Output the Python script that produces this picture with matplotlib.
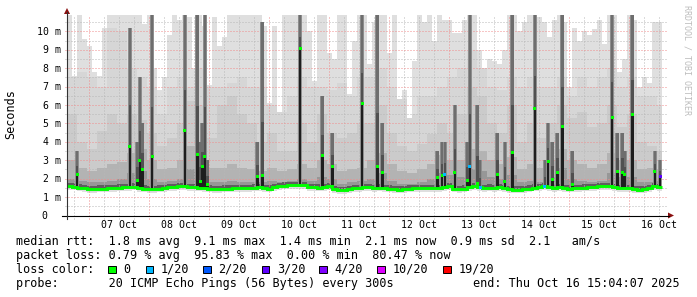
import numpy as np
import matplotlib
matplotlib.use("Agg")
import matplotlib.pyplot as plt
from matplotlib.lines import Line2D
from matplotlib.patches import Polygon, Rectangle

# ---------------- data (ms; x = hours since Oct 06 15:04:07, 2 h bins) ----------------
median_ms = [1.58, 1.56, 1.52, 1.48,
             1.42, 1.42, 1.45, 1.45, 1.48, 1.50,
             1.52, 1.55, 1.55, 1.56,
             1.50, 1.45, 1.42, 1.42,
             1.45, 1.50, 1.55, 1.55, 1.58,
             1.58, 1.55, 1.55, 1.52, 1.50,
             1.45, 1.42, 1.42, 1.45, 1.45, 1.48, 1.50, 1.50, 1.48,
             1.52, 1.55, 1.50, 1.45, 1.55, 1.60, 1.62, 1.65, 1.65,
             1.65, 1.65, 1.55, 1.55, 1.52, 1.55, 1.60,
             1.42, 1.38, 1.38, 1.42, 1.48, 1.50,
             1.55, 1.55, 1.50, 1.52, 1.50, 1.45, 1.42,
             1.40, 1.42, 1.45, 1.48, 1.48, 1.50, 1.50,
             1.50, 1.48, 1.55, 1.60, 1.45, 1.42, 1.45,
             1.55, 1.60, 1.55, 1.50, 1.52, 1.50, 1.55, 1.48,
             1.42, 1.40, 1.40, 1.42, 1.45, 1.52,
             1.55, 1.60, 1.55, 1.50, 1.55, 1.48,
             1.45, 1.48, 1.50, 1.52, 1.55, 1.55, 1.58, 1.60,
             1.58, 1.55, 1.50, 1.48, 1.50,
             1.42, 1.40, 1.42, 1.50, 1.58, 1.55]

light_top_ms = [10.9, 7.6, 10.9, 9.6, 9.2, 7.8, 7.6, 10.2, 10.9, 10.9,
                10.9, 10.9, 10.9, 10.9, 10.9, 10.4, 10.9, 8.0, 6.8, 7.5,
                9.8, 10.9, 10.6, 10.9, 10.8, 8.0, 10.9, 10.3, 7.1, 10.8,
                9.2, 9.7, 10.9, 10.9, 10.9, 10.9, 10.9, 10.9, 10.9, 10.3,
                6.1, 10.3, 5.6, 10.9, 10.9, 10.9, 10.9, 10.9, 10.0, 7.3,
                10.9, 10.9, 8.8, 8.5, 10.9, 10.9, 6.6, 9.5, 10.9, 10.9,
                8.2, 10.5, 10.9, 10.9, 8.8, 10.9, 6.3, 6.8, 5.3, 8.4,
                10.9, 10.5, 10.9, 9.5, 10.9, 10.6, 10.6, 9.9, 9.9, 10.6,
                10.9, 10.9, 9.0, 8.0, 8.5, 8.4, 8.2, 9.0, 10.9, 10.9,
                10.0, 10.5, 10.9, 10.9, 10.8, 10.5, 9.7, 10.6, 10.9, 10.5,
                7.0, 10.2, 9.5, 10.0, 9.8, 10.1, 10.6, 9.3, 10.9, 10.9,
                7.8, 8.5, 10.9, 10.6, 7.0, 7.5, 7.2, 10.5, 10.5]

# 4 h bins
second_top_ms = [7.5, 7.8, 7.5, 7.0, 10.2, 10.0, 8.0, 7.5, 7.0, 5.5,
                 7.0, 7.5, 7.0, 8.0, 7.0, 7.0, 7.2, 7.5, 7.0, 7.0,
                 6.0, 5.6, 6.5, 7.5, 7.0, 7.0, 6.8, 7.2, 6.5, 7.5,
                 7.5, 8.0, 7.0, 6.3, 5.5, 6.5, 6.5, 7.0, 7.5, 8.0,
                 9.0, 8.0, 7.0, 6.8, 7.5, 7.0, 7.5, 7.0, 7.0, 7.5,
                 6.5, 7.5, 7.0, 7.5, 8.0, 7.0, 7.5, 6.5, 6.5, 6.0]
mid_top_ms = [5.5, 4.0, 3.6, 4.6, 5.5, 5.0, 5.5, 5.2, 4.5, 3.8,
              4.2, 5.0, 6.2, 6.0, 4.2, 6.0, 6.5, 5.5, 5.0, 4.0,
              4.5, 3.5, 3.5, 5.0, 4.0, 5.5, 4.5, 4.2, 4.5, 5.0,
              5.0, 6.0, 4.5, 3.8, 3.5, 3.9, 4.4, 5.0, 4.5, 5.5,
              7.0, 6.5, 5.0, 4.5, 6.0, 4.0, 5.0, 4.2, 5.0, 6.0,
              5.3, 5.6, 4.8, 5.0, 6.0, 4.8, 5.5, 4.0, 3.8, 3.5]
low_top_ms = [3.0, 2.6, 2.4, 2.6, 2.8, 2.9, 3.4, 3.6, 3.0, 2.5,
              2.6, 3.0, 3.8, 3.6, 2.6, 2.6, 2.8, 2.6, 2.5, 2.4,
              2.6, 2.4, 2.5, 2.8, 2.6, 3.0, 2.8, 2.4, 2.5, 2.6,
              3.0, 3.4, 2.8, 2.4, 2.3, 2.5, 2.8, 3.3, 3.0, 3.0,
              3.6, 3.5, 3.0, 2.8, 3.2, 2.5, 2.8, 2.6, 3.0, 3.6,
              3.0, 2.8, 2.6, 2.8, 3.4, 3.0, 3.0, 2.5, 2.6, 2.5]
dark_top_ms = [2.0, 1.9, 1.8, 1.8, 1.9, 2.0, 2.3, 2.4, 2.0, 1.8,
               1.9, 2.0, 2.5, 2.4, 1.8, 1.8, 1.9, 1.8, 1.8, 1.8,
               1.9, 1.8, 1.9, 2.0, 1.9, 2.1, 2.0, 1.7, 1.8, 1.9,
               2.0, 2.3, 1.9, 1.7, 1.7, 1.8, 2.0, 2.3, 2.2, 2.1,
               2.5, 2.4, 2.1, 2.0, 2.2, 1.8, 1.9, 1.8, 2.1, 2.6,
               2.0, 1.9, 1.8, 1.9, 2.3, 2.1, 2.1, 1.8, 1.8, 1.9]

spike_hours = [4.0, 25.1, 28.1, 29.1, 30.1, 34.0, 47.1, 52.1, 53.2, 54.1,
               55.1, 56.1, 76.1, 78.1, 93.2, 102.1, 106.1, 118.0, 124.1, 126.1,
               148.1, 150.0, 151.1, 155.1, 160.1, 161.1, 164.1, 165.2, 172.1, 175.1,
               178.1, 187.1, 191.1, 192.4, 194.1, 196.1, 198.1, 202.1, 218.0, 220.1,
               222.1, 223.1, 226.1, 235.1, 237.2]
spike_ms = [2.25, 3.77, 1.92, 2.99, 2.50, 3.19, 4.62, 3.31, 1.86, 2.64,
            3.19, 1.70, 2.10, 2.19, 9.04, 3.26, 2.66, 6.08, 2.66, 2.34,
            2.04, 2.17, 2.20, 2.35, 1.90, 2.64, 1.75, 1.50, 2.21, 1.86,
            3.40, 5.80, 1.60, 2.91, 1.94, 2.35, 4.84, 1.70, 5.33, 2.41,
            2.34, 2.20, 5.47, 2.41, 2.14]
spike_col_ms = [3.5, 10.2, 4.0, 7.5, 5.0, 11, 11, 11, 4.0, 5.0,
                11, 3.0, 4.0, 10.5, 11, 6.5, 4.5, 11, 11, 5.0,
                3.5, 4.0, 4.0, 6.0, 4.0, 11, 6.0, 3.0, 4.5, 4.0,
                11, 11, 3.0, 5.0, 4.0, 4.5, 11, 3.5, 11, 4.5,
                4.5, 3.5, 11, 3.5, 3.0]
spike_loss = [0, 0, 0, 0, 0, 0, 0, 0, 0, 0,
              0, 0, 0, 0, 0, 0, 0, 0, 0, 0,
              0, 0, 1, 0, 0, 1, 0, 1, 0, 0,
              0, 0, 1, 0, 0, 0, 0, 0, 0, 0,
              0, 0, 0, 0, 3]

y_ticks = [0, 1, 2, 3, 4, 5, 6, 7, 8, 9, 10]
y_tick_labels = ["0", "1 m", "2 m", "3 m", "4 m", "5 m", "6 m", "7 m", "8 m", "9 m", "10 m"]
day_labels = ["07 Oct", "08 Oct", "09 Oct", "10 Oct", "11 Oct",
              "12 Oct", "13 Oct", "14 Oct", "15 Oct", "16 Oct"]
loss_labels = ["0", "1/20", "2/20", "3/20", "4/20", "10/20", "19/20"]
loss_colors = ["#00ff00", "#00b8ff", "#0059ff", "#5e00ff", "#7e00ff", "#dd00ff", "#ff0000"]
stat_rtt = "median rtt:  1.8 ms avg  9.1 ms max  1.4 ms min  2.1 ms now  0.9 ms sd  2.1   am/s"
stat_loss = "packet loss: 0.79 % avg  95.83 % max  0.00 % min  80.47 % now"
probe_text = "probe:       20 ICMP Echo Pings (56 Bytes) every 300s"
end_text = "end: Thu Oct 16 15:04:07 2025"

# ---------------- layout ----------------
W, H = 697, 297
fig = plt.figure(figsize=(W / 100, H / 100), dpi=100)
fig.patch.set_facecolor("white")
X0, X1 = 67, 667
Y0, YT = 215.5, 15.0
PX = 18.42                      # pixels per ms
HPX = (X1 - X0) / 240.0         # pixels per hour
ymax = (Y0 - YT) / PX
ax = fig.add_axes([X0 / W, 1 - Y0 / H, (X1 - X0) / W, (Y0 - YT) / H])
ax.set_xlim(0, 240)
ax.set_ylim(0, ymax)
ax.axis("off")

MONO = "DejaVu Sans Mono"
first_midnight = (86400 - (15 * 3600 + 4 * 60 + 7)) / 3600.0


def fx(x):
    return x / W


def fy(y):
    return 1 - y / H


# ---------------- smoke ----------------
med = np.array(median_ms)
n = len(med)
edges = np.arange(n + 1) * 2.0


def rep(a):
    return np.repeat(np.array(a, dtype=float), 2)[:n]


l1 = np.minimum(np.array(light_top_ms, dtype=float), ymax)
l2 = np.minimum(rep(second_top_ms), l1)
l3 = np.minimum(rep(mid_top_ms), l2)
l4 = np.minimum(rep(low_top_ms), l3)
l5 = np.minimum(rep(dark_top_ms), l4)
ax.stairs(l1, edges, baseline=med - 0.2, fill=True, color="#dfdfdf", lw=0, zorder=1)
ax.stairs(l2, edges, baseline=med - 0.12, fill=True, color="#d6d6d6", lw=0, zorder=2)
ax.stairs(l3, edges, baseline=med - 0.06, fill=True, color="#cbcbcb", lw=0, zorder=3)
ax.stairs(l4, edges, baseline=med, fill=True, color="#b3b3b3", lw=0, zorder=4)
ax.stairs(l5, edges, baseline=med, fill=True, color="#979797", lw=0, zorder=4.5)
ax.stairs(med + 0.18, edges, baseline=med, fill=True, color="#5e5e5e", lw=0, zorder=5)

# ---------------- grid ----------------
ext_y = -3 / PX
ext_x = -2.5 / HPX
majors = first_midnight + 24 * np.arange(10)
minors = [h for h in first_midnight - 6 + 6 * np.arange(42)
          if 0 < h < 240 and min(abs(h - majors)) > 0.1]
dash = (0, (1, 2.0))
ax.vlines(minors, ext_y, ymax, colors="#b8b8b8", lw=0.72, linestyles=[dash], zorder=6, clip_on=False)
ax.vlines(majors, ext_y, ymax, colors="#f08c8c", lw=0.72, linestyles=[dash], zorder=6, clip_on=False)
ax.hlines(np.arange(0.5, ymax, 1.0), ext_x, 240, colors="#b8b8b8", lw=0.72,
          linestyles=[dash], zorder=6, clip_on=False)
ax.hlines(np.arange(1, 11), ext_x, 240, colors="#f08c8c", lw=0.72,
          linestyles=[dash], zorder=6, clip_on=False)

# ---------------- spikes ----------------
bw = 1.0
cw = 1.5
for h, v, c, L in zip(spike_hours, spike_ms, spike_col_ms, spike_loss):
    base = med[min(int(h // 2), n - 1)]
    top = min(c, ymax)
    ax.add_patch(Rectangle((h - cw / 2, base), cw, top - base, facecolor="#8e8e8e",
                           lw=0, zorder=7))
    ax.add_patch(Rectangle((h - bw / 2, base), bw, top - base, facecolor="#6e6e6e",
                           lw=0, zorder=7.1))
    ax.add_patch(Rectangle((h - bw / 2, base), bw, v + 0.35 * (top - v) - base,
                           facecolor="#505050", lw=0, zorder=7.2))
    ax.add_patch(Rectangle((h - bw / 2, base), bw, v - base, facecolor="#1e1e1e",
                           lw=0, zorder=7.5))
    ax.add_patch(Rectangle((h - 0.6, v - 1.5 / PX), 1.2, 3 / PX,
                           facecolor=loss_colors[L], lw=0, zorder=9))

# ---------------- median line ----------------
ax.stairs(med, edges, baseline=None, color=loss_colors[0], lw=2.1, zorder=8)

# ---------------- axes + arrows ----------------
fig.add_artist(Line2D([fx(62), fx(669)], [fy(Y0), fy(Y0)], color="black", lw=0.8))
fig.add_artist(Line2D([fx(X0), fx(X0)], [fy(218.5), fy(12)], color="#333333", lw=0.8))
fig.add_artist(Polygon([[fx(668), fy(212.5)], [fx(668), fy(218.5)], [fx(674), fy(Y0)]],
                       closed=True, transform=fig.transFigure, facecolor="#8b1010",
                       edgecolor="none"))
fig.add_artist(Polygon([[fx(64), fy(14)], [fx(70), fy(14)], [fx(67), fy(8)]],
                       closed=True, transform=fig.transFigure, facecolor="#8b1010",
                       edgecolor="none"))

# ---------------- tick labels ----------------
for v, lab in zip(y_ticks, y_tick_labels):
    yb = Y0 - v * PX + 3.6
    xr = 60.5 if lab != "0" else 47.8
    fig.text(fx(xr), fy(yb), lab, ha="right", va="baseline", family=MONO,
             fontsize=7.1, color="black")

for k, lab in enumerate(day_labels):
    xc = X0 + (first_midnight + 12 + 24 * k) * HPX
    fig.text(fx(xc), fy(228.3), lab, ha="center", va="baseline", family=MONO,
             fontsize=7.1, color="black")

fig.text(fx(11), fy(114), "Seconds", rotation=90, ha="center", va="center",
         family=MONO, fontsize=8.5, color="black")
fig.text(fx(686.5), fy(5), "RRDTOOL / TOBI OETIKER", rotation=-90, ha="center", va="top",
         family=MONO, fontsize=6, color="#bdbdbd")

# ---------------- legend ----------------
fig.text(fx(16), fy(244.5), stat_rtt, ha="left", va="baseline", family=MONO, fontsize=8.5)
fig.text(fx(16), fy(259), stat_loss, ha="left", va="baseline", family=MONO, fontsize=8.5)
fig.text(fx(16), fy(272.7), "loss color:", ha="left", va="baseline", family=MONO, fontsize=8.5)
label_x = [123.3, 160.7, 218.3, 276.7, 334.3, 392.3, 458.3]
for lx, lab, col in zip(label_x, loss_labels, loss_colors):
    fig.add_artist(Rectangle((fx(lx - 15), fy(273.0)), 7.4 / W, 7.4 / H,
                             transform=fig.transFigure, facecolor=col,
                             edgecolor="black", lw=0.7))
    fig.text(fx(lx), fy(272.7), lab, ha="left", va="baseline", family=MONO, fontsize=8.5)
fig.text(fx(16), fy(287), probe_text, ha="left", va="baseline", family=MONO, fontsize=8.5)
fig.text(fx(680), fy(287), end_text, ha="right", va="baseline", family=MONO, fontsize=8.5)

fig.savefig("out.png", dpi=100, facecolor="white")
